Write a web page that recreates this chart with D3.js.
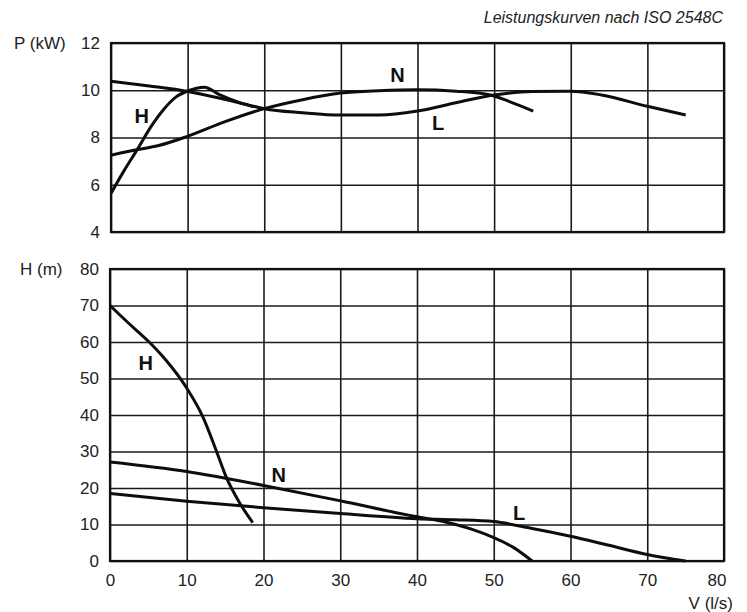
<!DOCTYPE html>
<html>
<head>
<meta charset="utf-8">
<script src="https://cdn.jsdelivr.net/npm/d3@7"></script>
<style>
  body { margin: 0; background: #fff; }
  svg { font-family: "Liberation Sans", Arial, sans-serif; }
</style>
</head>
<body>
<div id="chart"></div>
<script>
// flow V (l/s) ticks
var flowTicks = [0, 10, 20, 30, 40, 50, 60, 70, 80]
var powerTicks = [4, 6, 8, 10, 12]
var headTicks = [0, 10, 20, 30, 40, 50, 60, 70, 80]

// power curves P (kW) : [V, P]
var powerH = [[0, 5.64], [1.75, 6.62], [3.5, 7.53], [5.2, 8.45], [6.95, 9.22], [8.5, 9.72], [10, 9.97],
  [12.2, 10.13], [14, 9.84], [16.6, 9.5], [18.6, 9.3]]
var powerN = [[0, 7.25], [3.5, 7.49], [6.1, 7.65], [10, 8.05], [14.8, 8.66], [20, 9.22], [25, 9.6],
  [30, 9.88], [35, 9.98], [40, 10.02], [45, 9.96], [49.5, 9.8], [52, 9.52], [55.1, 9.12]]
var powerL = [[0, 10.38], [5, 10.18], [10, 9.95], [14.4, 9.65], [18, 9.37], [20, 9.22], [25, 9.05],
  [30, 8.95], [35, 8.95], [40, 9.12], [45, 9.47], [50, 9.8], [55, 9.95], [60, 9.96], [64, 9.8],
  [70, 9.32], [75, 8.95]]

// head curves H (m) : [V, H]
var headH = [[0, 70], [2.5, 65], [5.1, 60], [7.3, 55], [9.9, 47.7], [12.1, 39.5], [13.8, 30.5],
  [15.1, 23.2], [16.9, 15.9], [18.6, 10.5]]
var headN = [[0, 27.1], [10, 24.5], [20, 20.7], [30, 16.5], [40, 12.1], [43.3, 10.9], [47, 8.8],
  [50, 6.4], [52.5, 3.8], [55, 0]]
var headL = [[0, 18.5], [10, 16.4], [20, 14.6], [30, 13.0], [40, 11.6], [45, 11.3], [50, 10.8],
  [55, 8.9], [60, 6.8], [65, 4.3], [70, 1.8], [75, 0]]

// curve labels [text, V, value]
var powerLabels = [["H", 4.0, 8.91], ["N", 37.4, 10.66], ["L", 42.7, 8.63]]
var headLabels = [["H", 4.65, 54.2], ["N", 22.0, 23.6], ["L", 53.3, 13.2]]

var width = 747, height = 612

var svg = d3.select("#chart")
  .append("svg")
    .attr("width", width)
    .attr("height", height)

// title
svg.append("text")
  .attr("x", 723)
  .attr("y", 23)
  .attr("text-anchor", "end")
  .style("font-style", "italic")
  .style("font-size", "16px")
  .style("fill", "#222")
  .text("Leistungskurven nach ISO 2548C")

function drawPanel(opt) {
  var x = d3.scaleLinear().domain([0, 80]).range([opt.left, 724])
  var y = d3.scaleLinear().domain(opt.domain).range([opt.bottom, opt.top])
  var h = opt.bottom - opt.top

  var g = svg.append("g")

  // vertical grid
  g.append("g")
    .attr("transform", "translate(0," + opt.bottom + ")")
    .call(d3.axisBottom(x).tickValues(flowTicks).tickSize(-h).tickFormat(opt.showX ? d3.format("d") : ""))
    .call(function(a) {
      a.select(".domain").remove()
      a.selectAll("line").attr("stroke", "#1a1a1a").attr("stroke-width", 1.6)
      a.selectAll("text").attr("dy", "0.71em").attr("y", 13)
        .style("font-size", "17px").style("fill", "#222").style("font-family", "Liberation Sans, Arial, sans-serif")
      a.selectAll(".tick").filter(function(d) { return d === 80 }).select("text")
        .attr("text-anchor", "end").attr("x", 2)
    })

  // horizontal grid
  g.append("g")
    .attr("transform", "translate(" + opt.left + ",0)")
    .call(d3.axisLeft(y).tickValues(opt.ticks).tickSize(-(724 - opt.left)).tickPadding(11))
    .call(function(a) {
      a.select(".domain").remove()
      a.selectAll("line").attr("stroke", "#1a1a1a").attr("stroke-width", 1.6)
      a.selectAll("text").style("font-size", "17px").style("fill", "#222")
        .style("font-family", "Liberation Sans, Arial, sans-serif")
    })

  // frame
  g.append("rect")
    .attr("x", opt.left).attr("y", opt.top)
    .attr("width", 724 - opt.left).attr("height", h)
    .attr("fill", "none").attr("stroke", "#111").attr("stroke-width", 2.2)

  // axis title
  g.append("text")
    .attr("x", opt.titleX).attr("y", opt.top).attr("dy", "0.35em")
    .style("font-size", "17px").style("fill", "#222")
    .text(opt.title)

  var line = d3.line()
    .x(function(d) { return x(d[0]) })
    .y(function(d) { return y(d[1]) })
    .curve(d3.curveMonotoneX)

  g.selectAll("path.curve")
    .data(opt.series)
    .enter()
    .append("path")
      .attr("class", "curve")
      .attr("d", line)
      .attr("fill", "none")
      .attr("stroke", "#0d0d0d")
      .attr("stroke-width", 3)
      .attr("stroke-linejoin", "round")

  g.selectAll("text.lbl")
    .data(opt.labels)
    .enter()
    .append("text")
      .attr("class", "lbl")
      .attr("x", function(d) { return x(d[1]) })
      .attr("y", function(d) { return y(d[2]) })
      .attr("dy", "0.36em")
      .attr("text-anchor", "middle")
      .style("font-size", "20px")
      .style("font-weight", "bold")
      .style("fill", "#111")
      .text(function(d) { return d[0] })
}

drawPanel({ left: 111, top: 43, bottom: 232, domain: [4, 12], ticks: powerTicks,
  title: "P (kW)", titleX: 14, series: [powerH, powerN, powerL], labels: powerLabels, showX: false })

drawPanel({ left: 110, top: 269, bottom: 561, domain: [0, 80], ticks: headTicks,
  title: "H (m)", titleX: 20, series: [headH, headN, headL], labels: headLabels, showX: true })

// x axis title
svg.append("text")
  .attr("x", 733)
  .attr("y", 603)
  .attr("dy", "0.35em")
  .attr("text-anchor", "end")
  .style("font-size", "17px")
  .style("fill", "#222")
  .text("V (l/s)")
</script>
</body>
</html>
